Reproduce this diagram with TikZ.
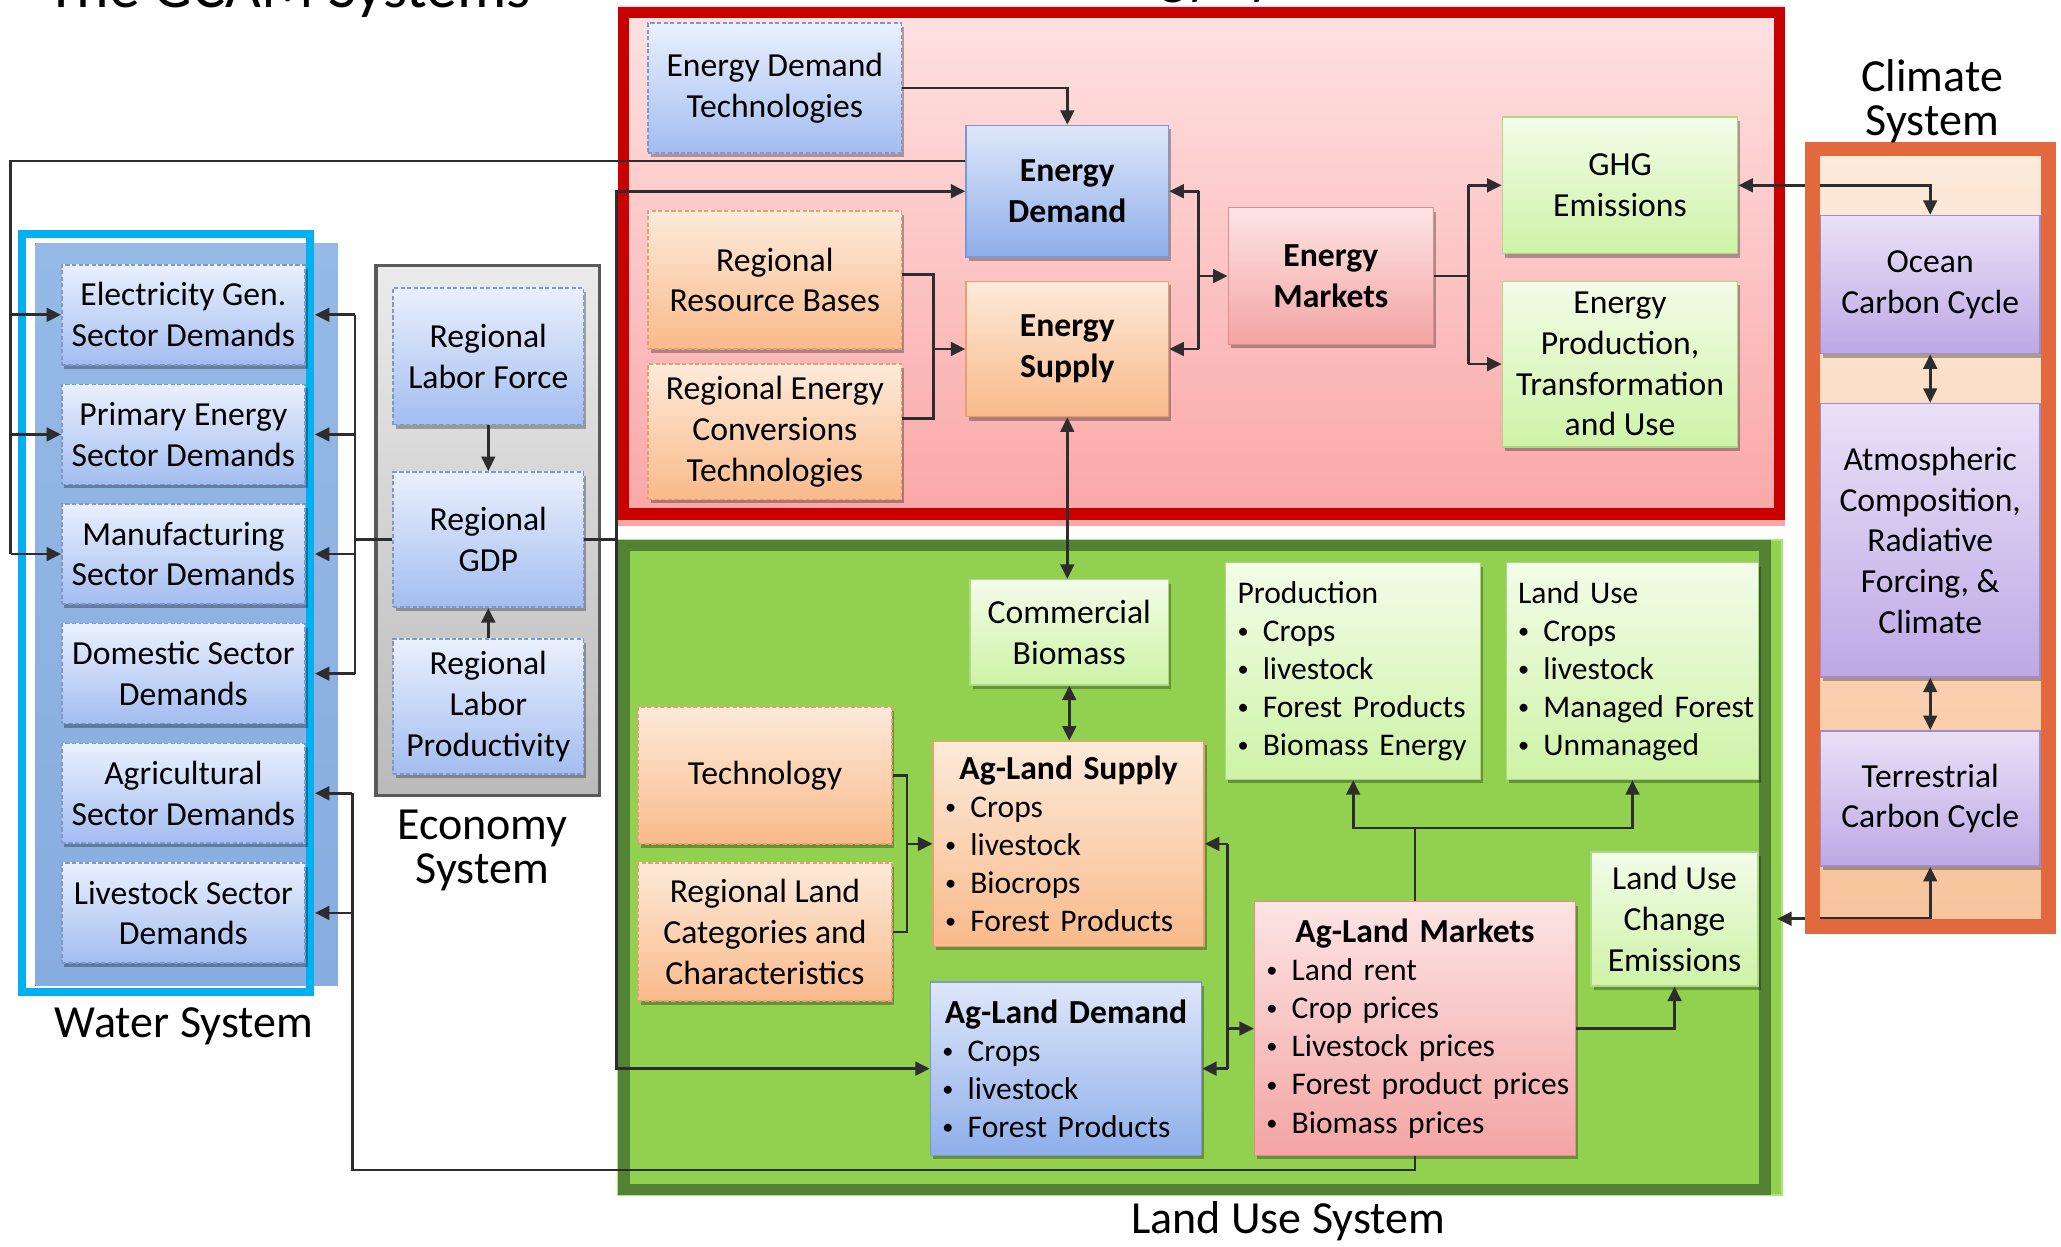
\documentclass[tikz,border=0pt]{standalone}
\usepackage{fontspec}
\setmainfont{Carlito}
\usetikzlibrary{arrows.meta,shadows,calc}
\definecolor{redframe}{RGB}{200,0,0}
\definecolor{pnltop}{RGB}{255,226,226}
\definecolor{pnlbot}{RGB}{250,166,166}
\definecolor{greenframe}{RGB}{84,130,53}
\definecolor{greenfill}{RGB}{146,208,80}
\definecolor{greenedge}{RGB}{170,230,120}
\definecolor{cyanframe}{RGB}{0,176,240}
\definecolor{orangeframe}{RGB}{226,104,62}
\definecolor{wptop}{RGB}{150,186,230}
\definecolor{wpbot}{RGB}{135,172,222}
\definecolor{pchtop}{RGB}{253,234,219}
\definecolor{pchbot}{RGB}{247,196,156}
\definecolor{lbtop}{RGB}{234,240,253}
\definecolor{lbbot}{RGB}{163,189,240}
\definecolor{lbline}{RGB}{125,152,205}
\definecolor{bltop}{RGB}{222,231,250}
\definecolor{blbot}{RGB}{142,174,234}
\definecolor{ortop}{RGB}{253,234,218}
\definecolor{orbot}{RGB}{249,186,138}
\definecolor{orline}{RGB}{228,160,110}
\definecolor{pktop}{RGB}{253,228,228}
\definecolor{pkbot}{RGB}{244,164,164}
\definecolor{pkline}{RGB}{225,140,140}
\definecolor{grtop}{RGB}{243,252,233}
\definecolor{grbot}{RGB}{206,243,166}
\definecolor{grline}{RGB}{175,215,135}
\definecolor{pptop}{RGB}{233,225,247}
\definecolor{ppbot}{RGB}{190,168,230}
\definecolor{ppline}{RGB}{160,140,200}
\definecolor{conncol}{RGB}{45,45,45}
\newcommand{\itm}[1]{\mbox{\makebox[0.8em][l]{\raisebox{1.1pt}{\fontsize{8.5}{8.5}\selectfont •}}#1}}
\newcommand{\boxttl}[1]{\makebox[\linewidth]{\bfseries\fontsize{12.8}{14.5}\selectfont #1}}
\begin{document}
\begin{tikzpicture}[x=0.5pt,y=-0.5pt,
  wh/.style 2 args={minimum width=#1, minimum height=#2},
  base/.style={line width=0.6pt, align=center, inner sep=2pt,
     font=\fontsize{12.8}{15.5}\selectfont,
     drop shadow={shadow xshift=1pt, shadow yshift=-1.5pt, opacity=0.3, fill=black}},
  bfnt/.style={font=\fontsize{12.8}{15.5}\selectfont\bfseries},
  dsh/.style={dash pattern=on 1.6pt off 0.9pt},
  lb/.style={base, draw=lbline, top color=lbtop, bottom color=lbbot, dsh},
  bl/.style={base, draw=lbline, top color=bltop, bottom color=blbot},
  ob/.style={base, draw=orline, top color=ortop, bottom color=orbot},
  obd/.style={ob, dsh},
  pk/.style={base, draw=pkline, top color=pktop, bottom color=pkbot},
  gb/.style={base, draw=grline, top color=grtop, bottom color=grbot},
  pp/.style={base, draw=ppline, top color=pptop, bottom color=ppbot},
  lst/.style={align=left, font=\fontsize{12}{14.5}\selectfont, inner xsep=4.5pt},
  conn/.style={draw=conncol, line width=1pt},
  arr/.style={conn, -{Triangle[length=5.5pt,width=5.2pt]}},
  arrr/.style={conn, {Triangle[length=5.5pt,width=5.2pt]}-{Triangle[length=5.5pt,width=5.2pt]}},
  syslabel/.style={font=\fontsize{17.5}{17}\selectfont, align=center, inner sep=0pt},
]
\useasboundingbox (0,0) rectangle (1568,948);
\clip (0,0) rectangle (1568,948);
\fill[white] (0,0) rectangle (1568,948);

% titles (partly cut off)
\node[anchor=base west, font=\fontsize{23.5}{27}\selectfont, inner sep=0pt] (title) at (35,6) {The GCAM Systems};
\node[anchor=base, font=\fontsize{21}{25}\selectfont, inner sep=0pt] (entitle) at (929,-5) {Energy System};

% panels
\fill[top color=pnltop, bottom color=pnlbot] (470,4) rectangle (1358,400);
\draw[redframe, line width=4.3pt] (474.5,9.5) rectangle (1354,391);
\fill[greenfill, draw=greenedge, line width=0.8pt] (470,411) rectangle (1356,909);
\draw[greenframe, line width=4.5pt] (475,415) rectangle (1343,905);
\fill[top color=wptop, bottom color=wpbot] (27,185) rectangle (257,750);
\draw[cyanframe, line width=3pt] (17,178) rectangle (236,754.5);
\draw[black!65, line width=1.2pt, top color=black!8, bottom color=black!27] (286,202) rectangle (456,605);
\fill[top color=pchtop, bottom color=pchbot] (1384,118) rectangle (1553,700);

% water system
\node[lb, wh={92.5pt}{38pt}] (w1) at (139.5,239.5) {Electricity Gen.\\Sector Demands};
\node[lb, wh={92.5pt}{38pt}] (w2) at (139.5,330.5) {Primary Energy\\Sector Demands};
\node[lb, wh={92.5pt}{38pt}] (w3) at (139.5,421.5) {Manufacturing\\Sector Demands};
\node[lb, wh={92.5pt}{38pt}] (w4) at (139.5,512.5) {Domestic Sector\\Demands};
\node[lb, wh={92.5pt}{38pt}] (w5) at (139.5,603.5) {Agricultural\\Sector Demands};
\node[lb, wh={92.5pt}{38pt}] (w6) at (139.5,694.5) {Livestock Sector\\Demands};

% economy system
\node[lb, wh={72.5pt}{52pt}] (lf) at (371.5,271) {Regional\\Labor Force};
\node[lb, wh={72.5pt}{51.5pt}] (gdp) at (371.5,410.5) {Regional\\GDP};
\node[lb, wh={72.5pt}{51.5pt}] (lp) at (371.5,537.5) {Regional\\Labor\\Productivity};

% energy system
\node[lb, wh={96.5pt}{49.5pt}] (edt) at (589.5,67) {Energy Demand\\Technologies};
\node[bl, bfnt, wh={77pt}{50pt}] (ed) at (812,145.5) {Energy\\Demand};
\node[obd, wh={96.5pt}{52.5pt}] (rrb) at (589.5,213) {Regional\\Resource Bases};
\node[obd, wh={96.5pt}{51.5pt}] (rect) at (589.5,328.5) {Regional Energy\\Conversions\\Technologies};
\node[ob, bfnt, wh={77pt}{51.5pt}] (es) at (812,265.5) {Energy\\Supply};
\node[pk, bfnt, wh={78pt}{52pt}] (em) at (1012.5,210) {Energy\\Markets};
\node[gb, wh={89.5pt}{52pt}] (ghg) at (1232.5,141) {GHG\\Emissions};
\node[gb, wh={89.5pt}{63pt}] (eptu) at (1232.5,277) {Energy\\Production,\\Transformation\\and Use};

% climate system
\node[pp, wh={83.5pt}{52.5pt}] (ocean) at (1468.5,216.5) {Ocean\\Carbon Cycle};
\node[pp, wh={83.5pt}{104pt}] (atm) at (1468.5,411) {Atmospheric\\Composition,\\Radiative\\Forcing, \&\\Climate};
\node[pp, wh={83.5pt}{51.5pt}] (terr) at (1468.5,607.5) {Terrestrial\\Carbon Cycle};

% land use system
\node[gb, wh={75.5pt}{40pt}] (cb) at (813.5,481) {Commercial\\Biomass};
\node[gb, lst, wh={97pt}{82.5pt}, text width=88pt] (prod) at (1029.5,510.5)
  {Production\\\itm{Crops}\\\itm{livestock}\\\itm{Forest Products}\\\itm{Biomass Energy}};
\node[gb, lst, wh={96pt}{82.5pt}, text width=87pt] (lu) at (1242,510.5)
  {Land Use\\\itm{Crops}\\\itm{livestock}\\\itm{Managed Forest}\\\itm{Unmanaged}};
\node[obd, wh={96.5pt}{52pt}] (tech) at (582,590) {Technology};
\node[obd, wh={96.5pt}{52.5pt}] (rl) at (582,709) {Regional Land\\Categories and\\Characteristics};
\node[ob, lst, wh={103pt}{78pt}, text width=94pt] (als) at (813,642)
  {\boxttl{Ag-Land Supply}\\\itm{Crops}\\\itm{livestock}\\\itm{Biocrops}\\\itm{Forest Products}};
\node[bl, lst, wh={103pt}{66pt}, text width=94pt] (ald) at (811,813)
  {\boxttl{Ag-Land Demand}\\\itm{Crops}\\\itm{livestock}\\\itm{Forest Products}};
\node[pk, lst, wh={122pt}{96.5pt}, text width=113pt] (agm) at (1076.5,782.5)
  {\boxttl{Ag-Land Markets}\\\itm{Land rent}\\\itm{Crop prices}\\\itm{Livestock prices}\\\itm{Forest product prices}\\\itm{Biomass prices}};
\node[gb, wh={63.5pt}{51pt}] (luc) at (1274,699) {Land Use\\Change\\Emissions};

% connectors: energy demand to water sectors
\coordinate (Lx) at (8,0);
\coordinate (edl) at ($(ed.west)+(0,-23)$);
\draw[conn] (edl) -| (Lx |- w3.west);
\foreach \n in {w1,w2,w3} \draw[arr] (Lx |- \n.west) -- (\n.west);

% GDP to energy demand and ag-land demand
\coordinate (Gx) at (469,0);
\draw[conn] (gdp.east) -- (Gx |- gdp.east);
\draw[arr] (Gx |- gdp.east) |- (ed.west);
\draw[arr] (Gx |- gdp.east) |- (ald.west);

% GDP to water sectors
\coordinate (Mx) at (270,0);
\draw[conn] (gdp.west) -- (Mx |- gdp.west);
\draw[conn] (Mx |- w1.east) -- (Mx |- w4.east);
\foreach \n in {w1,w2,w3,w4} \draw[arr] (Mx |- \n.east) -- ([xshift=3.5pt]\n.east);

% ag-land markets to water sectors
\coordinate (Bx) at (268,890);
\draw[conn] (agm.south) |- (Bx) -- (Bx |- w5.east);
\foreach \n in {w5,w6} \draw[arr] (Bx |- \n.east) -- ([xshift=3.5pt]\n.east);

% economy
\draw[arr] (lf.south) -- (gdp.north);
\draw[arr] (lp.north) -- (gdp.south);

% energy
\draw[arr] (edt.east) -| (ed.north);
\coordinate (Rx) at (710,0);
\coordinate (rrbo) at ([yshift=2pt]rrb.east);
\coordinate (recto) at ([yshift=5pt]rect.east);
\draw[conn] (rrbo) -| (Rx |- recto) -- (recto);
\draw[arr] (Rx |- es.west) -- (es.west);
\coordinate (Kx) at (912,0);
\draw[conn] (Kx |- ed.east) -- (Kx |- es.east);
\draw[arr] (Kx |- ed.east) -- (ed.east);
\draw[arr] (Kx |- es.east) -- (es.east);
\draw[arr] (Kx |- em.west) -- (em.west);
\coordinate (Jx) at (1117,0);
\draw[conn] (em.east) -- (Jx |- em.east);
\draw[conn] (Jx |- ghg.west) -- (Jx |- eptu.west);
\draw[arr] (Jx |- ghg.west) -- (ghg.west);
\draw[arr] (Jx |- eptu.west) -- (eptu.west);

% climate
\draw[arrr] (ghg.east) -| (ocean.north);
\draw[arrr] (ocean.south) -- (atm.north);
\draw[arrr] (atm.south) -- (terr.north);
\coordinate (grE) at (1352,0);
\draw[arrr] (grE |- luc.east) -| (terr.south);

% land use
\draw[arrr] (es.south) -- (es.south |- cb.north);
\draw[arrr] (cb.south) -- (cb.south |- als.north);
\coordinate (Tx) at (690,0);
\draw[conn] (tech.east) -| (Tx |- rl.east) -- (rl.east);
\draw[arr] (Tx |- als.west) -- (als.west);
\coordinate (Qx) at (934,0);
\draw[conn] (Qx |- als.east) -- (Qx |- ald.east);
\draw[arr] (Qx |- als.east) -- (als.east);
\draw[arr] (Qx |- ald.east) -- (ald.east);
\draw[arr] (Qx |- agm.west) -- (agm.west);
\coordinate (Px) at (1077,630);
\draw[conn] (agm.north) -- (agm.north |- Px);
\draw[arr] (agm.north |- Px) -| (prod.south);
\draw[arr] (agm.north |- Px) -| (lu.south);
\draw[arr] (agm.east) -| (luc.south);

% climate frame on top
\draw[orangeframe, line width=5.5pt] (1379,113.5) rectangle (1558.5,705);

% system labels
\node[syslabel] (climlab) at (1470,77) {Climate\\System};
\node[syslabel] (econlab) at (367,647) {Economy\\System};
\node[syslabel] (waterlab) at (140,781) {Water System};
\node[syslabel] (landlab) at (980,929) {Land Use System};
\end{tikzpicture}
\end{document}
